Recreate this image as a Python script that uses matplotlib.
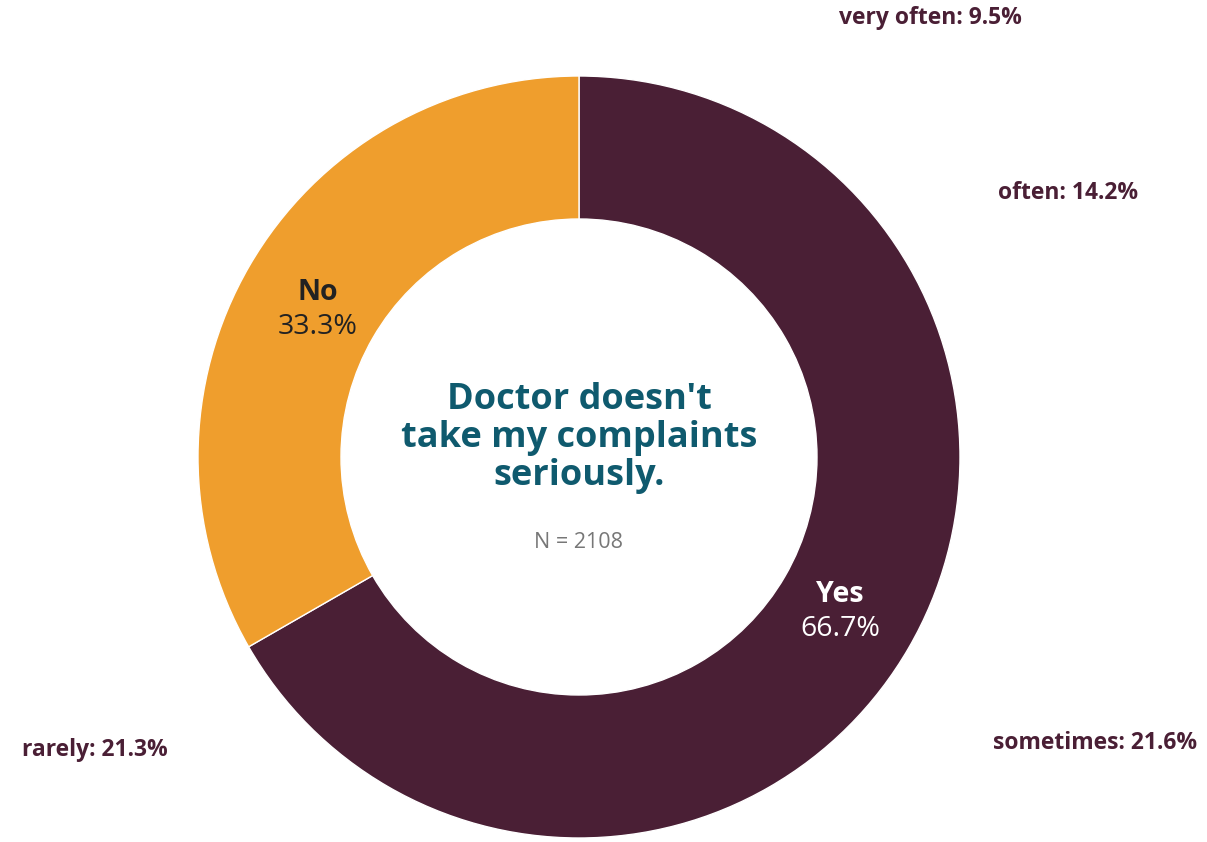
import matplotlib.pyplot as plt

# データ
labels = ['Yes', 'No']
values = [66.7, 33.3]
colors = ['#4a1f35', '#ef9e2d']
sub_labels = ['very often', 'often', 'sometimes', 'rarely']
sub_values = [9.5, 14.2, 21.6, 21.3]

plt.rcParams['font.family'] = ['Open Sans', 'DejaVu Sans']

W, H = 1207, 842
fig = plt.figure(figsize=(W / 100, H / 100), dpi=100)
ax = fig.add_axes([0, 0, 1, 1])

# ドーナツ (ピクセル座標、y は上向き)
cx, cy, R, r = 579, H - 457, 381, 238
ax.pie(values, colors=colors, startangle=90, counterclock=False,
       center=(cx, cy), radius=R,
       wedgeprops=dict(width=R - r, edgecolor='white', linewidth=1))
ax.set_xlim(0, W)
ax.set_ylim(0, H)
ax.set_aspect('equal')
ax.axis('off')

# 内側ラベル
ax.text(840, H - 595, labels[0], ha='center', va='center', fontsize=20.5,
        fontweight='bold', color='white')
ax.text(840, H - 629, f'{values[0]}%', ha='center', va='center', fontsize=20.5,
        color='white')
ax.text(318, H - 293, labels[1], ha='center', va='center', fontsize=20.5,
        fontweight='bold', color='#222222')
ax.text(318, H - 327, f'{values[1]}%', ha='center', va='center', fontsize=20.5,
        color='#222222')

# 外側ラベル (Yes の内訳)
sub_pos = [(930, 18), (1068, 193), (1095, 743), (95, 750)]
for (x, y), name, v in zip(sub_pos, sub_labels, sub_values):
    ax.text(x, H - y, f'{name}: {v}%', ha='center', va='center',
            fontsize=16.5, fontweight='bold', color='#4a1f35')

# 中央タイトル
ax.text(cx, H - 438, "Doctor doesn't\ntake my complaints\nseriously.",
        ha='center', va='center', fontsize=26, fontweight='bold',
        color='#0f5a6e', linespacing=1.06)
ax.text(cx, H - 542, 'N = 2108', ha='center', va='center', fontsize=15.5,
        color='#777777')

fig.savefig('out.png', dpi=100)
